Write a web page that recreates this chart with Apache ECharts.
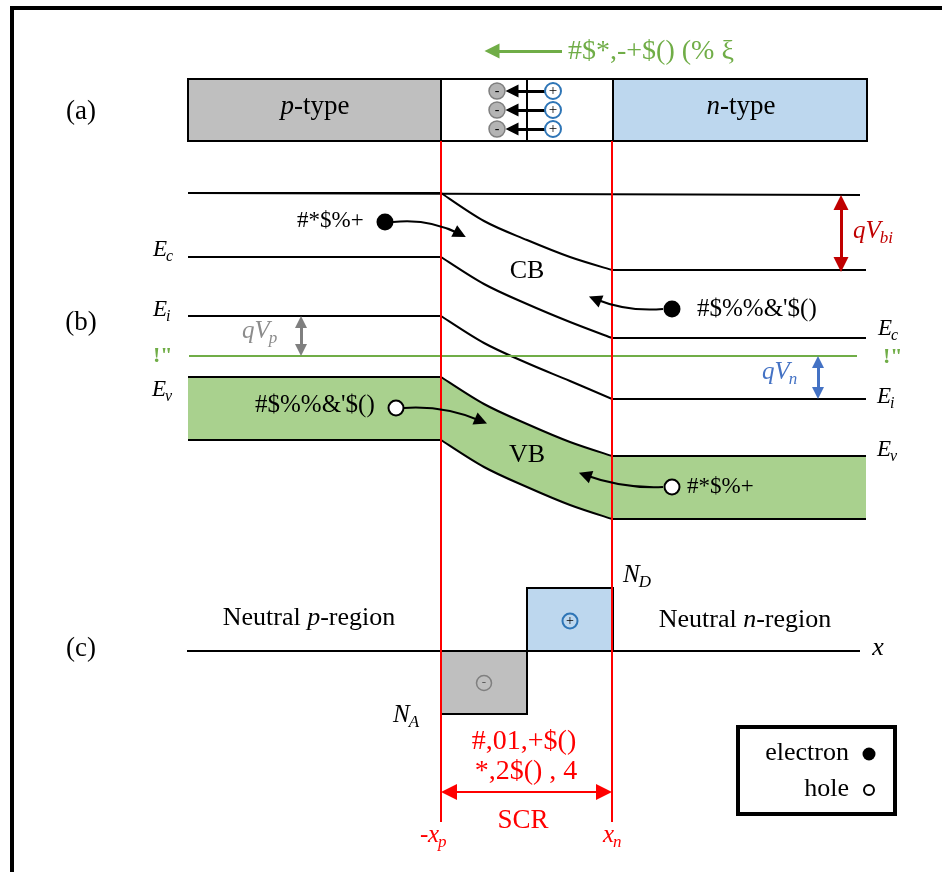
<!DOCTYPE html>
<html>
<head>
<meta charset="utf-8">
<script src="https://cdn.jsdelivr.net/npm/echarts@6/dist/echarts.min.js"></script>
<style>
  html, body { margin: 0; padding: 0; background: #fff; }
  #chart { width: 942px; height: 872px; }
</style>
</head>
<body>
<div id="chart"></div>
<script>
// ---------- drawing space: x = position along the device, y = energy / charge (downward) ----------
const regionX   = [188, 441, 527, 612, 866];   // device left, -xp, junction, xn, device right

// band edges sampled across the space-charge region
const bendX     = [441, 484, 527, 570, 612];
const cbTop     = [193, 221, 240, 257, 270];
const ecEdge    = [257, 284, 304, 322, 338];
const eiLevel   = [316, 343, 363, 381, 399];
const evEdge    = [377, 404, 424, 442, 456];
const vbBottom  = [440, 467, 487, 505, 519];
const bandEdges = [cbTop, ecEdge, eiLevel, evEdge, vbBottom];

const fermiX    = [189, 857];
const fermiY    = [356, 356];
const refX      = [188, 860];
const refY      = [193, 195];

// panel (a): device bar
const barTop    = 79;
const barBottom = 141;
const ionRows   = [91, 110, 129];
const acceptorIonX = 497;
const donorIonX    = 553;

// panel (c): space-charge density
const chargeAxisY = 651;
const chargeAxisX = [187, 860];
const acceptorBlock = [441, 527, 714];   // x from, x to, -qNA level
const donorBlock    = [527, 613, 588];   // x from, x to, +qND level

// carriers
const electrons = [[385, 222], [672, 309]];
const holes     = [[396, 408], [672, 487]];

// potential steps (x, from, to)
const qVbi = [841, 195, 272];
const qVp  = [301, 316, 356];
const qVn  = [818, 356, 399];

const SERIF = '"Liberation Serif", "Times New Roman", serif';
const GREEN = '#70ad47';
const RED = '#ff0000';

// ---------- helpers ----------
const measure = document.createElement('canvas').getContext('2d');
function textWidth(s, size, style) {
  measure.font = (style || 'normal') + ' ' + size + 'px "Liberation Serif"';
  return measure.measureText(s).width;
}
function txt(x, y, text, o) {
  o = o || {};
  const style = {
    text: text,
    fill: o.color || '#000',
    fontSize: o.size || 27,
    fontFamily: SERIF,
    fontStyle: o.italic ? 'italic' : 'normal',
    fontWeight: o.bold ? 'bold' : 'normal',
    align: o.align || 'center',
    textAlign: o.align || 'center',
    verticalAlign: 'middle',
    textVerticalAlign: 'middle'
  };
  if (o.rich) style.rich = o.rich;
  return { type: 'text', x: x, y: y, z: 100, silent: true, style: style };
}
// italic symbol with italic subscript, left anchored
function symSub(x, y, main, sub, color, size, subSize) {
  const w = textWidth(main, size, 'italic');
  return [
    txt(x, y, main, { color: color, size: size, italic: true, align: 'left' }),
    txt(x + w - 1, y + size * 0.29, sub, { color: color, size: subSize, italic: true, align: 'left' })
  ];
}
function richWord(parts, size) {
  let text = '';
  parts.forEach(p => { text += '{' + (p[1] ? 'i' : 'n') + '|' + p[0] + '}'; });
  return {
    text: text,
    rich: {
      i: { fontSize: size, fontFamily: SERIF, fontStyle: 'italic', fill: '#000' },
      n: { fontSize: size, fontFamily: SERIF, fontStyle: 'normal', fill: '#000' }
    }
  };
}

const base = { silent: true, animation: false };

function lineSeries(data, color, width, z, extra) {
  return Object.assign({
    type: 'line', data: data, symbol: 'none', smooth: false,
    lineStyle: { color: color, width: width }, z: z
  }, base, extra || {});
}

// pixel points of one band edge: flat p-side, bent SCR part, flat n-side
function edgePixels(api, levels) {
  const n = levels.length - 1;
  return {
    start: api.coord([regionX[0], levels[0]]),
    bend: bendX.map((x, i) => api.coord([x, levels[i]])),
    end: api.coord([regionX[4], levels[n]])
  };
}
// path commands through the bend samples (Catmull-Rom as cubic Beziers)
function bendPath(pts) {
  let d = '';
  for (let i = 0; i < pts.length - 1; i++) {
    const p0 = pts[Math.max(i - 1, 0)], p1 = pts[i], p2 = pts[i + 1], p3 = pts[Math.min(i + 2, pts.length - 1)];
    const c1 = [p1[0] + (p2[0] - p0[0]) / 6, p1[1] + (p2[1] - p0[1]) / 6];
    const c2 = [p2[0] - (p3[0] - p1[0]) / 6, p2[1] - (p3[1] - p1[1]) / 6];
    d += ' C' + c1[0] + ' ' + c1[1] + ' ' + c2[0] + ' ' + c2[1] + ' ' + p2[0] + ' ' + p2[1];
  }
  return d;
}
function edgePath(e) {
  return 'M' + e.start[0] + ' ' + e.start[1] + ' L' + e.bend[0][0] + ' ' + e.bend[0][1] +
    bendPath(e.bend) + ' L' + e.end[0] + ' ' + e.end[1];
}
function reversedEdgePath(e) {
  const rb = e.bend.slice().reverse();
  return ' L' + e.end[0] + ' ' + e.end[1] + ' L' + rb[0][0] + ' ' + rb[0][1] +
    bendPath(rb) + ' L' + e.start[0] + ' ' + e.start[1];
}

function rectSeries(rects, fill, stroke, lw, z) {
  return Object.assign({
    type: 'custom', coordinateSystem: 'cartesian2d', z: z,
    data: rects,
    encode: { x: [0, 2], y: [1, 3] },
    renderItem: function (params, api) {
      const a = api.coord([api.value(0), api.value(1)]);
      const b = api.coord([api.value(2), api.value(3)]);
      return {
        type: 'rect',
        shape: { x: Math.min(a[0], b[0]), y: Math.min(a[1], b[1]),
                 width: Math.abs(b[0] - a[0]), height: Math.abs(b[1] - a[1]) },
        style: { fill: fill, stroke: stroke, lineWidth: lw }
      };
    }
  }, base);
}

function arrows(list, color, width, head, both, z) {
  return Object.assign({
    type: 'lines', coordinateSystem: 'cartesian2d', z: z || 6,
    symbol: both ? ['triangle', 'triangle'] : ['none', 'triangle'],
    symbolSize: head,
    lineStyle: { color: color, width: width, opacity: 1 },
    effect: { show: false },
    data: list.map(a => ({ coords: [a[0], a[1]], lineStyle: { curveness: a[2] || 0 } }))
  }, base);
}
function vStep(s, head) {
  const h = head / 2;
  return [[s[0], s[1] + h], [s[0], s[2] - h]];
}

function dots(data, size, fill, stroke, lw, z, label) {
  return Object.assign({
    type: 'scatter', data: data, symbol: 'circle', symbolSize: size, z: z || 7,
    itemStyle: { color: fill, borderColor: stroke, borderWidth: lw, opacity: 1 },
    label: label ? Object.assign({ show: true, position: 'inside' }, label) : { show: false }
  }, base);
}

// ---------- series ----------
const series = [];

// panel (a): p-type / SCR / n-type bar
series.push(rectSeries([[regionX[0], barTop, regionX[1], barBottom]], '#bfbfbf', '#000', 2, 2));
series.push(rectSeries([[regionX[1], barTop, regionX[2], barBottom], [regionX[2], barTop, 613, barBottom]], '#fff', '#000', 2, 2));
series.push(rectSeries([[613, barTop, 867, barBottom]], '#bdd7ee', '#000', 2, 2));

// panel (b): valence band fill
series.push(Object.assign({
  type: 'custom', coordinateSystem: 'cartesian2d', z: 1,
  data: [[regionX[0], evEdge[0]]],
  renderItem: function (params, api) {
    const up = edgePixels(api, evEdge), lo = edgePixels(api, vbBottom);
    return { type: 'path', shape: { pathData: edgePath(up) + reversedEdgePath(lo) + ' Z' },
             style: { fill: '#a9d18e', stroke: null } };
  }
}, base));
// panel (b): band edges
series.push(Object.assign({
  type: 'custom', coordinateSystem: 'cartesian2d', z: 4,
  data: bandEdges.map(b => [regionX[0], b[0]]),
  renderItem: function (params, api) {
    const e = edgePixels(api, bandEdges[params.dataIndex]);
    return { type: 'path', shape: { pathData: edgePath(e) },
             style: { fill: null, stroke: '#000', lineWidth: 2 } };
  }
}, base));
series.push(lineSeries(refX.map((x, i) => [x, refY[i]]), '#000', 2, 4));
series.push(lineSeries(fermiX.map((x, i) => [x, fermiY[i]]), GREEN, 2, 4));

// panel (c): charge density
series.push(rectSeries([[acceptorBlock[0], chargeAxisY, acceptorBlock[1], acceptorBlock[2]]], '#bfbfbf', '#000', 2, 2));
series.push(rectSeries([[donorBlock[0], donorBlock[2], donorBlock[1], chargeAxisY]], '#bdd7ee', '#000', 2, 2));
series.push(lineSeries(chargeAxisX.map(x => [x, chargeAxisY]), '#000', 2, 3));

// legend frame
series.push(rectSeries([[738, 727, 895, 814]], '#fff', '#000', 4, 2));

// SCR boundaries
series.push(lineSeries([[regionX[1], barBottom], [regionX[1], 822]], RED, 2, 5));
series.push(lineSeries([[regionX[3], barBottom], [regionX[3], 822]], RED, 2, 5));

// arrows
series.push(arrows([[[562, 51], [492, 51]]], GREEN, 3, 15));
series.push(arrows(ionRows.map(y => [[545, y], [512, y]]), '#000', 3, 13));
series.push(arrows([vStep(qVbi, 15)], '#c00000', 3, 15, true));
series.push(arrows([vStep(qVp, 12)], '#7f7f7f', 3, 12, true));
series.push(arrows([vStep(qVn, 12)], '#4472c4', 3, 12, true));
series.push(arrows([[[regionX[1] + 8, 792], [regionX[3] - 8, 792]]], RED, 2, 16, true));
series.push(arrows([
  [[393, 222], [460, 234], 0.15],
  [[663, 309], [595, 299], 0.12],
  [[404, 408], [481, 421], 0.12],
  [[663, 487], [585, 475], 0.1]
], '#000', 2, 13));

// carriers & ions
series.push(dots(electrons, 17, '#000', '#000', 0));
series.push(dots(holes, 15, '#fff', '#000', 2));
series.push(dots([[869, 754]], 13, '#000', '#000', 0));
series.push(dots([[869, 790]], 10, '#fff', '#000', 2));
series.push(dots(ionRows.map(y => [acceptorIonX, y]), 16, '#b4b4b4', '#7f7f7f', 1.5, 7,
  { formatter: '-', fontSize: 14, color: '#000', fontFamily: SERIF }));
series.push(dots(ionRows.map(y => [donorIonX, y]), 16, '#fff', '#2e75b6', 2, 7,
  { formatter: '+', fontSize: 15, color: '#000', fontFamily: SERIF }));
series.push(dots([[484, 683]], 15, '#bfbfbf', '#7f7f7f', 1.5, 7,
  { formatter: '-', fontSize: 13, color: '#595959', fontFamily: SERIF }));
series.push(dots([[570, 621]], 15, '#bdd7ee', '#2e75b6', 2, 7,
  { formatter: '+', fontSize: 14, color: '#000', fontFamily: SERIF }));

// ---------- text ----------
const g = [];
g.push({ type: 'rect', z: 100, silent: true, shape: { x: 12, y: 8, width: 1000, height: 1000 },
         style: { fill: 'none', stroke: '#000', lineWidth: 4 } });
g.push(txt(81, 112, '(a)'));
g.push(txt(81, 323, '(b)'));
g.push(txt(81, 649, '(c)'));

const pt = richWord([['p', true], ['-type', false]], 27);
g.push(txt(315, 107, pt.text, { rich: pt.rich }));
const nt = richWord([['n', true], ['-type', false]], 27);
g.push(txt(741, 107, nt.text, { rich: nt.rich }));

g.push(txt(568, 52, '#$*,-+$() (% ξ', { color: GREEN, size: 28, align: 'left' }));

g.push(...symSub(153, 250, 'E', 'c', '#000', 23, 16));
g.push(...symSub(153, 310, 'E', 'i', '#000', 23, 16));
g.push(...symSub(152, 390, 'E', 'v', '#000', 23, 16));
g.push(...symSub(878, 329, 'E', 'c', '#000', 23, 16));
g.push(...symSub(877, 397, 'E', 'i', '#000', 23, 16));
g.push(...symSub(877, 450, 'E', 'v', '#000', 23, 16));
g.push(txt(153, 356, '!"', { color: GREEN, size: 22, bold: true, align: 'left' }));
g.push(txt(883, 357, '!"', { color: GREEN, size: 22, bold: true, align: 'left' }));

g.push(...symSub(853, 231, 'qV', 'bi', '#c00000', 25, 17));
g.push(...symSub(242, 331, 'qV', 'p', '#8c8c8c', 25, 17));
g.push(...symSub(762, 372, 'qV', 'n', '#4472c4', 25, 17));

g.push(txt(527, 271, 'CB', { size: 26 }));
g.push(txt(527, 455, 'VB', { size: 26 }));

g.push(txt(297, 221, '#*$%+', { size: 23, align: 'left' }));
g.push(txt(697, 309, '#$%%&\'$()', { size: 25, align: 'left' }));
g.push(txt(255, 405, '#$%%&\'$()', { size: 25, align: 'left' }));
g.push(txt(687, 487, '#*$%+', { size: 23, align: 'left' }));

const np = richWord([['Neutral ', false], ['p', true], ['-region', false]], 26);
g.push(txt(309, 618, np.text, { rich: np.rich }));
const nn = richWord([['Neutral ', false], ['n', true], ['-region', false]], 26);
g.push(txt(745, 620, nn.text, { rich: nn.rich }));
g.push(txt(878, 648, 'x', { size: 26, italic: true }));
g.push(...symSub(623, 575, 'N', 'D', '#000', 25, 17));
g.push(...symSub(393, 715, 'N', 'A', '#000', 25, 17));

g.push(txt(524, 742, '#,01,+$()', { color: RED, size: 28 }));
g.push(txt(526, 772, '*,2$() , 4', { color: RED, size: 28 }));
g.push(txt(523, 821, 'SCR', { color: RED, size: 27 }));
g.push(txt(420, 835, '-', { color: RED, size: 25, italic: true, align: 'left' }));
g.push(...symSub(428, 835, 'x', 'p', RED, 25, 17));
g.push(...symSub(603, 835, 'x', 'n', RED, 25, 17));

g.push(txt(849, 753, 'electron', { size: 26, align: 'right' }));
g.push(txt(849, 789, 'hole', { size: 26, align: 'right' }));

// ---------- chart ----------
const chart = echarts.init(document.getElementById('chart'), null, { renderer: 'canvas' });
chart.setOption({
  backgroundColor: '#fff',
  animation: false,
  grid: { left: 0, right: 0, top: 0, bottom: 0, containLabel: false },
  xAxis: { type: 'value', min: 0, max: 942, show: false },
  yAxis: { type: 'value', min: 0, max: 872, inverse: true, show: false },
  tooltip: { show: false },
  series: series,
  graphic: { elements: g }
});
</script>
</body>
</html>
